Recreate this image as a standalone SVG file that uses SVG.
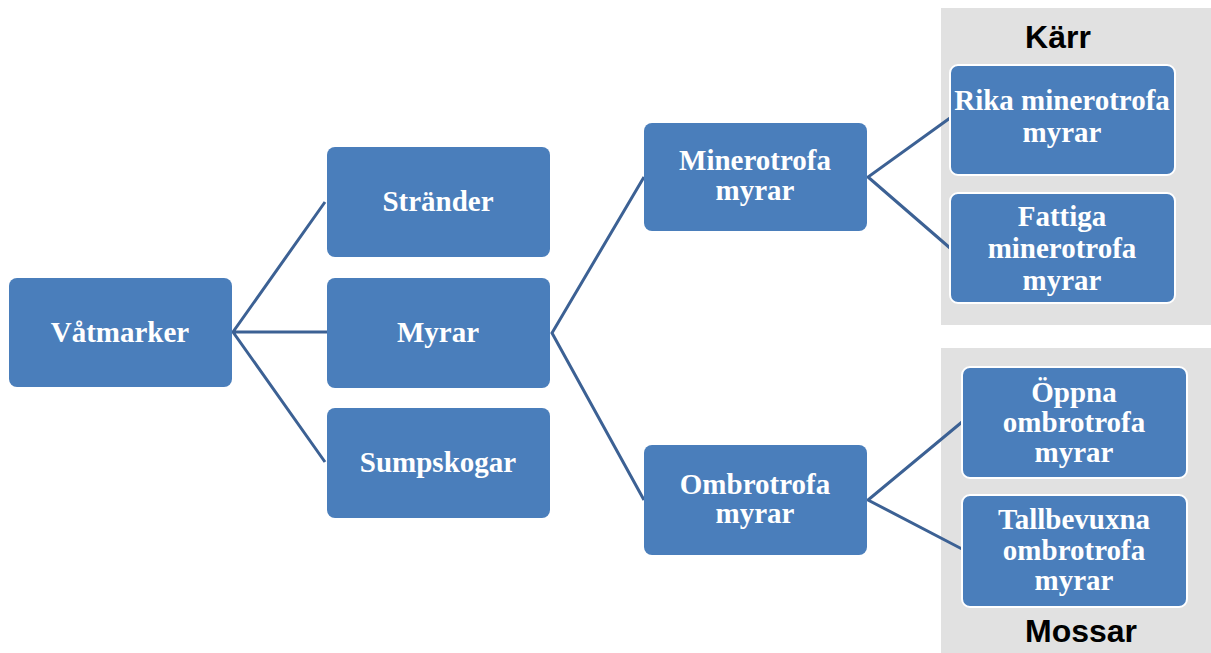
<svg xmlns="http://www.w3.org/2000/svg" width="1211" height="653" viewBox="0 0 1211 653">
<style>
.box{fill:#4a7ebb;}
.sub{fill:#4a7ebb;stroke:#ffffff;stroke-width:2;}
.t{font-family:"Liberation Serif",serif;font-weight:bold;font-size:29px;fill:#ffffff;text-anchor:middle;}
.h{font-family:"Liberation Sans",sans-serif;font-weight:bold;font-size:32px;fill:#000000;text-anchor:middle;}
.panel{fill:#e1e1e1;}
.c{stroke:#3c6194;stroke-width:3;fill:none;}
</style>
<rect width="1211" height="653" fill="#ffffff"/>
<g id="panel-karr">
<rect class="panel" x="941" y="8" width="270" height="317"/>
<text class="h" x="1058" y="48">Kärr</text>
</g>
<g id="panel-mossar">
<rect class="panel" x="941" y="348" width="270" height="305"/>
<text class="h" x="1081" y="642">Mossar</text>
</g>
<g id="connectors">
<path class="c" d="M325,202 L233,332 L325,462 M233,332 L327,332"/>
<path class="c" d="M644,177 L552,333 L644,500"/>
<path class="c" d="M950,118 L868,177 L950,248"/>
<path class="c" d="M962,422 L868,500 L962,549"/>
</g>
<g id="vatmarker">
<rect class="box" x="9" y="278" width="223" height="109" rx="8"/>
<text class="t" x="120" y="342">Våtmarker</text>
</g>
<g id="strander">
<rect class="box" x="327" y="147" width="223" height="110" rx="8"/>
<text class="t" x="438" y="211">Stränder</text>
</g>
<g id="myrar">
<rect class="box" x="327" y="278" width="223" height="110" rx="8"/>
<text class="t" x="438" y="342">Myrar</text>
</g>
<g id="sumpskogar">
<rect class="box" x="327" y="408" width="223" height="110" rx="8"/>
<text class="t" x="438" y="472">Sumpskogar</text>
</g>
<g id="minerotrofa">
<rect class="box" x="644" y="123" width="223" height="108" rx="8"/>
<text class="t" x="755" y="170">Minerotrofa</text>
<text class="t" x="755" y="200">myrar</text>
</g>
<g id="ombrotrofa">
<rect class="box" x="644" y="445" width="223" height="110" rx="8"/>
<text class="t" x="755" y="494">Ombrotrofa</text>
<text class="t" x="755" y="523">myrar</text>
</g>
<g id="rika">
<rect class="sub" x="950" y="65" width="225" height="110" rx="8"/>
<text class="t" x="1062" y="110">Rika minerotrofa</text>
<text class="t" x="1062" y="142">myrar</text>
</g>
<g id="fattiga">
<rect class="sub" x="950" y="193" width="225" height="110" rx="8"/>
<text class="t" x="1062" y="226">Fattiga</text>
<text class="t" x="1062" y="258">minerotrofa</text>
<text class="t" x="1062" y="290">myrar</text>
</g>
<g id="oppna">
<rect class="sub" x="962" y="367" width="225" height="111" rx="8"/>
<text class="t" x="1074" y="402">Öppna</text>
<text class="t" x="1074" y="432">ombrotrofa</text>
<text class="t" x="1074" y="462">myrar</text>
</g>
<g id="tallbevuxna">
<rect class="sub" x="962" y="495" width="225" height="112" rx="8"/>
<text class="t" x="1074" y="529">Tallbevuxna</text>
<text class="t" x="1074" y="560">ombrotrofa</text>
<text class="t" x="1074" y="590">myrar</text>
</g>
</svg>
